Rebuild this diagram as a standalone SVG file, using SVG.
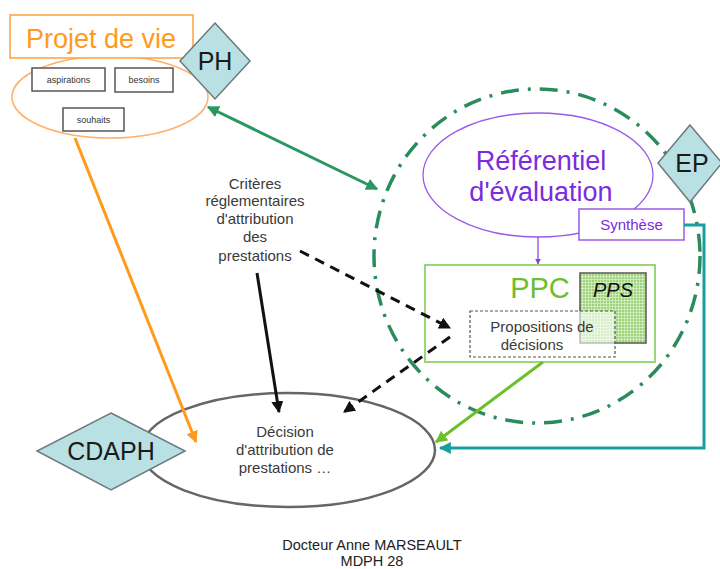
<svg xmlns="http://www.w3.org/2000/svg" width="720" height="569" viewBox="0 0 720 569">
<style>
text{font-family:"Liberation Sans",Arial,sans-serif}
.sm{font-size:9px;fill:#333}
.gt{font-size:15px;fill:#3a3a3a}
.dia{fill:#b9e0e3;stroke:#6b7b7c;stroke-width:1.5}
.dt{font-size:25px;fill:#1a1a1a}
.box{fill:#fff;stroke:#555;stroke-width:1.5}
</style>
<defs>
<marker id="ag" viewBox="0 0 10 10" refX="9" refY="5" markerWidth="4" markerHeight="4" orient="auto-start-reverse"><path d="M0,0 L10,5 L0,10 z" fill="#2a9660"/></marker>
<marker id="ak" viewBox="0 0 10 10" refX="9" refY="5" markerWidth="4" markerHeight="4" orient="auto"><path d="M0,0 L10,5 L0,10 z" fill="#111"/></marker>
<marker id="ao" viewBox="0 0 10 10" refX="9" refY="5" markerWidth="4" markerHeight="4" orient="auto"><path d="M0,0 L10,5 L0,10 z" fill="#ff9a1a"/></marker>
<marker id="al" viewBox="0 0 10 10" refX="9" refY="5" markerWidth="4" markerHeight="4" orient="auto"><path d="M0,0 L10,5 L0,10 z" fill="#6cc02a"/></marker>
<marker id="at" viewBox="0 0 10 10" refX="9" refY="5" markerWidth="4" markerHeight="4" orient="auto"><path d="M0,0 L10,5 L0,10 z" fill="#1a9e9e"/></marker>
<marker id="ap" viewBox="0 0 10 10" refX="9" refY="5" markerWidth="5" markerHeight="5" orient="auto"><path d="M0,0 L10,5 L0,10 z" fill="#8a3ae6"/></marker>
<pattern id="grid" width="3" height="3" patternUnits="userSpaceOnUse"><rect width="3" height="3" fill="#9fd27a"/><path d="M0,0.5 H3 M0.5,0 V3" stroke="#d6f0c4" stroke-width="0.8"/></pattern>
</defs>

<g id="evaluation-circle">
<ellipse cx="537" cy="256" rx="163" ry="167" fill="none" stroke="#2a8c5a" stroke-width="3.5" stroke-dasharray="18 9 3 9" stroke-linecap="butt"/>
</g>

<g id="projet-de-vie">
<ellipse cx="110" cy="97" rx="98" ry="41" fill="none" stroke="#ffb06a" stroke-width="1.5"/>
<rect x="10" y="15" width="183" height="43" fill="#fff" stroke="#ffa040" stroke-width="1.5"/>
<text x="101" y="48" font-size="27" fill="#ff9a1a" text-anchor="middle">Projet de vie</text>
</g>
<g id="aspirations"><rect class="box" x="32" y="68" width="73" height="23"/><text class="sm" x="68.5" y="83" text-anchor="middle">aspirations</text></g>
<g id="besoins"><rect class="box" x="115" y="68" width="58" height="24"/><text class="sm" x="144" y="83" text-anchor="middle">besoins</text></g>
<g id="souhaits"><rect class="box" x="63" y="108" width="61" height="23"/><text class="sm" x="93.5" y="123" text-anchor="middle">souhaits</text></g>

<g id="PH"><polygon class="dia" points="215,23 250,61 215,99 180,61"/><text class="dt" x="215" y="70" text-anchor="middle">PH</text></g>

<g id="referentiel">
<ellipse cx="538" cy="175" rx="115" ry="62" fill="#fff" stroke="#9a5ae8" stroke-width="1.3"/>
<text x="541" y="170" font-size="27" fill="#7a2be0" text-anchor="middle">Référentiel</text>
<text x="541" y="201" font-size="27" fill="#7a2be0" text-anchor="middle">d'évaluation</text>
</g>
<g id="synthese"><rect x="579" y="209" width="105" height="31" fill="#fff" stroke="#9a5ae8" stroke-width="1.5"/><text x="631.5" y="230" font-size="15" fill="#7a2be0" text-anchor="middle">Synthèse</text></g>

<g id="EP"><polygon class="dia" points="690,125 722,163 690,202 658,163"/><text class="dt" x="692" y="172" text-anchor="middle">EP</text></g>

<g id="PPC">
<rect x="425" y="265" width="230" height="97" fill="#fff" stroke="#8fd36b" stroke-width="1.8"/>
<text x="540" y="298" font-size="29" fill="#6cc030" text-anchor="middle">PPC</text>
</g>
<g id="PPS">
<rect x="580" y="273" width="66" height="70" fill="url(#grid)" stroke="#555" stroke-width="1.5"/>
<text x="613" y="297" font-size="20" font-style="italic" fill="#111" text-anchor="middle">PPS</text>
</g>
<g id="propositions">
<rect x="470" y="311" width="145" height="46" fill="#fff" fill-opacity="0.6" stroke="#555" stroke-width="1.2" stroke-dasharray="3 2"/>
<text class="gt" x="542" y="332" font-size="15.5" text-anchor="middle">Propositions de</text>
<text class="gt" x="532" y="350" font-size="15.5" text-anchor="middle">décisions</text>
</g>

<g id="criteres">
<text class="gt" x="255" y="189" text-anchor="middle">Critères</text>
<text class="gt" x="255" y="206" text-anchor="middle">réglementaires</text>
<text class="gt" x="255" y="224" text-anchor="middle">d'attribution</text>
<text class="gt" x="255" y="242" text-anchor="middle">des</text>
<text class="gt" x="255" y="261" text-anchor="middle">prestations</text>
</g>

<g id="decision">
<ellipse cx="288" cy="450" rx="147" ry="57" fill="none" stroke="#666" stroke-width="2.5"/>
<text class="gt" x="285" y="437" text-anchor="middle">Décision</text>
<text class="gt" x="285" y="455" text-anchor="middle">d'attribution de</text>
<text class="gt" x="285" y="473" text-anchor="middle">prestations …</text>
</g>

<g id="CDAPH"><polygon class="dia" points="111,413 185,451 111,490 37,451"/><text class="dt" x="111" y="460" text-anchor="middle">CDAPH</text></g>

<g id="connectors" fill="none">
<line x1="208" y1="107" x2="377" y2="189" stroke="#2a9660" stroke-width="3" marker-start="url(#ag)" marker-end="url(#ag)"/>
<line x1="75" y1="138" x2="196" y2="442" stroke="#ff9a1a" stroke-width="3" marker-end="url(#ao)"/>
<line x1="257" y1="273" x2="279" y2="412" stroke="#111" stroke-width="3" marker-end="url(#ak)"/>
<line x1="300" y1="251" x2="450" y2="328" stroke="#111" stroke-width="3" stroke-dasharray="10 7" marker-end="url(#ak)"/>
<line x1="450" y1="337" x2="344" y2="412" stroke="#111" stroke-width="3" stroke-dasharray="10 7" marker-end="url(#ak)"/>
<line x1="543" y1="362" x2="436" y2="442" stroke="#6cc02a" stroke-width="3" marker-end="url(#al)"/>
<polyline points="684,225 704,225 704,448 440,448" stroke="#1a9e9e" stroke-width="3" marker-end="url(#at)"/>
<line x1="538" y1="237" x2="538" y2="264" stroke="#8a3ae6" stroke-width="1.2" marker-end="url(#ap)"/>
</g>

<g id="footer">
<text x="372" y="550" font-size="14.5" fill="#222" text-anchor="middle">Docteur Anne MARSEAULT</text>
<text x="372" y="566" font-size="14.5" fill="#222" text-anchor="middle">MDPH 28</text>
</g>
</svg>
